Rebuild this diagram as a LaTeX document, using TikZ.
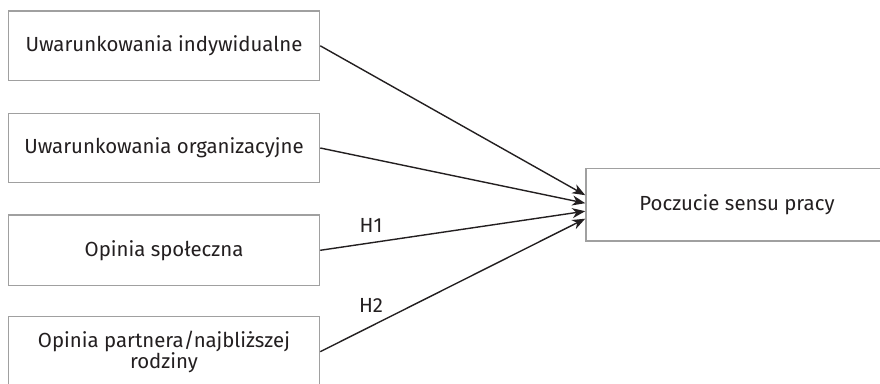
\documentclass[tikz,border=0pt]{standalone}
\usepackage{fontspec}
\setmainfont{Fira Sans}
\usetikzlibrary{arrows.meta,calc}
\definecolor{boxgray}{HTML}{A0A0A0}
\definecolor{ink}{HTML}{231F20}
\tikzset{
  box/.style={draw=boxgray, line width=0.75pt, rectangle, inner sep=0pt,
    text=ink, align=center, font=\fontsize{10.2}{10.6}\selectfont},
  conn/.style={draw=ink, line width=0.7pt, -{Stealth[length=6.5pt,width=5pt,inset=2pt]}},
  hlab/.style={text=ink, font=\fontsize{10.2}{12}\selectfont, inner sep=0pt}
}
\begin{document}
\begin{tikzpicture}[x=0.5pt,y=-0.5pt]
\clip (0,0) rectangle (880,384);
\fill[white] (0,0) rectangle (880,384);
\node[box, minimum width=155.5pt, minimum height=34.8pt] (b1) at (164,45.8) {Uwarunkowania indywidualne};
\node[box, minimum width=155.5pt, minimum height=34.7pt] (b2) at (164,148) {Uwarunkowania organizacyjne};
\node[box, minimum width=155.5pt, minimum height=35.3pt] (b3) at (164,250.3) {Opinia społeczna};
\node[box, minimum width=155.5pt, minimum height=35pt] (b4) at (164,351.7) {Opinia partnera/najbliższej\\rodziny};
\node[box, minimum width=151pt, minimum height=36.4pt] (rb) at (737,204.7) {Poczucie sensu pracy};
\draw[conn] (b1.east) -- ($(rb.west)+(0,-9.5)$);
\draw[conn] (b2.east) -- ($(rb.west)+(0,-1.5)$);
\draw[conn] (b3.east) -- ($(rb.west)+(0,6.5)$);
\draw[conn] (b4.east) -- ($(rb.west)+(0,14)$);
\node[hlab] (h1) at (371,225) {H1};
\node[hlab] (h2) at (371,305) {H2};
\end{tikzpicture}
\end{document}
